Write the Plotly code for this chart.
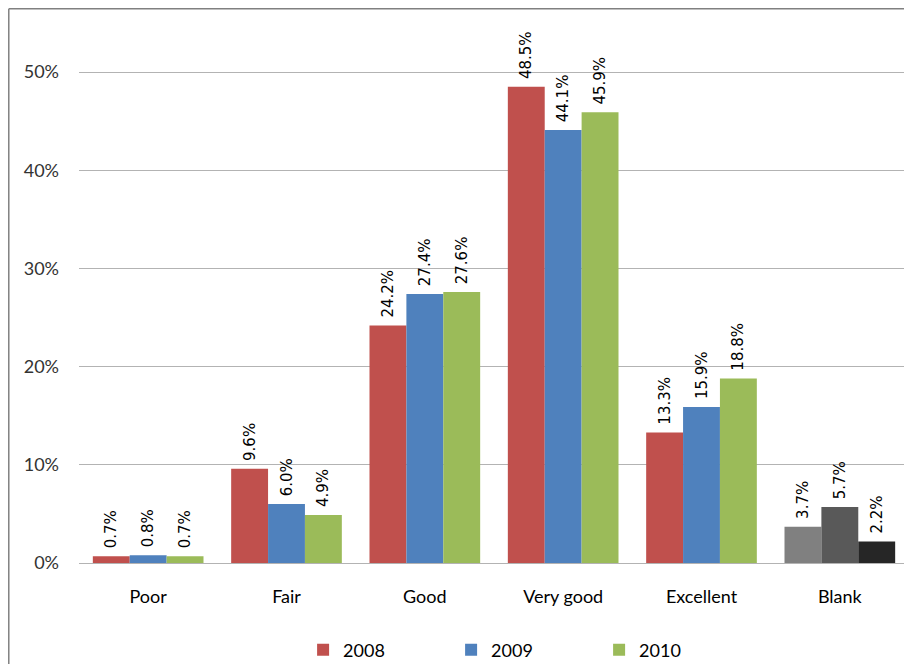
import plotly.graph_objects as go

categories = ["Poor", "Fair", "Good", "Very good", "Excellent", "Blank"]
years = ["2008", "2009", "2010"]
values_2008 = [0.007, 0.096, 0.242, 0.485, 0.133, 0.037]
values_2009 = [0.008, 0.060, 0.274, 0.441, 0.159, 0.057]
values_2010 = [0.007, 0.049, 0.276, 0.459, 0.188, 0.022]

series_colors = ["#C0504D", "#4F81BD", "#9BBB59"]
blank_colors = ["#808080", "#595959", "#262626"]

fig = go.Figure()
for i, (year, vals) in enumerate(zip(years, [values_2008, values_2009, values_2010])):
    colors = [series_colors[i]] * (len(categories) - 1) + [blank_colors[i]]
    fig.add_trace(go.Bar(
        x=categories, y=vals, name=year,
        marker=dict(color=colors, line=dict(width=0)),
        # leading nbsp gives the gap between bar top and the rotated label
        text=[f"\u00a0{v*100:.1f}%" for v in vals],
        textposition="outside", textangle=-90, cliponaxis=False,
        constraintext="none",
        textfont=dict(family="DejaVu Sans", size=15, color="#000000"),
    ))

# page body adds an 8px margin, so the figure is a bit smaller than the window
fig.update_layout(
    width=904, height=656,
    margin=dict(l=71, r=3, t=15, b=101, autoexpand=False),
    paper_bgcolor="white", plot_bgcolor="white",
    barmode="group", bargap=0.2, bargroupgap=0,
    font=dict(family="Lato", size=17, color="#000000"),
    showlegend=True,
    legend=dict(orientation="h", x=0.27, xanchor="left",
                y=-0.161, yanchor="middle",
                font=dict(size=18), entrywidth=103, itemwidth=30,
                traceorder="normal"),
)
fig.update_yaxes(range=[0, 0.55], tickvals=[0, 0.1, 0.2, 0.3, 0.4, 0.5],
                 tickformat=".0%", showgrid=True, gridcolor="#B3B3B3", gridwidth=1,
                 zeroline=False, showline=False, ticks="", ticklabelstandoff=19,
                 tickfont=dict(color="#333333", size=18))
fig.update_xaxes(showline=True, linecolor="#B3B3B3", linewidth=1, ticks="",
                 ticklabelstandoff=17, tickfont=dict(color="#000000", size=18))

# chart border (cropped at right/bottom in the reference)
fig.add_shape(type="line", xref="paper", yref="paper", x0=-0.0846, x1=-0.0846,
              y0=-0.3, y1=1.0264, line=dict(color="#808080", width=1.5))
fig.add_shape(type="line", xref="paper", yref="paper", x0=-0.0846, x1=1.01,
              y0=1.0264, y1=1.0264, line=dict(color="#808080", width=1.5))

fig.write_html("out.html")
